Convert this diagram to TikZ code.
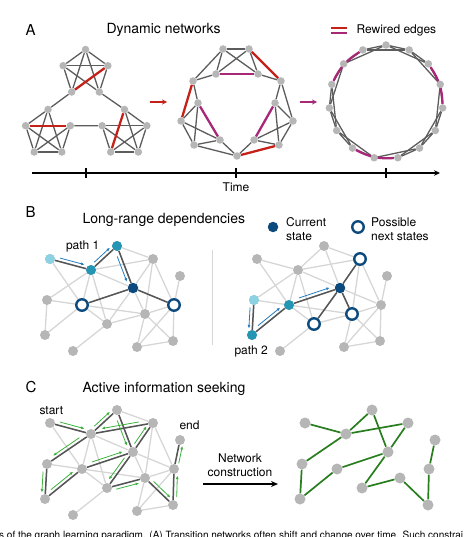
\documentclass[tikz,border=0pt]{standalone}
\usepackage{fontspec}
\setmainfont{TeX Gyre Heros}
\usetikzlibrary{calc,arrows.meta,backgrounds}

\definecolor{nodegray}{RGB}{182,182,182}
\definecolor{edgegray}{RGB}{92,92,92}
\definecolor{edgelight}{RGB}{214,214,214}
\definecolor{edgedark}{RGB}{85,85,85}
\definecolor{rewirered}{RGB}{196,34,24}
\definecolor{rewiremag}{RGB}{168,40,120}
\definecolor{startcyan}{RGB}{140,210,226}
\definecolor{pathteal}{RGB}{36,150,180}
\definecolor{curblue}{RGB}{12,74,126}
\definecolor{arrowblue}{RGB}{36,124,192}
\definecolor{walkgreen}{RGB}{60,178,60}
\definecolor{netgreen}{RGB}{40,125,30}

% one graph, used in B and C
\def\graphpts{1/50/259,2/91/270,3/117/246,4/133/288,5/82/305,6/174/305,7/153/259,8/180/276,
  9/47/300,10/45/335,11/107/324,12/145/314,13/73/351,14/137/347,15/173/341}
\def\graphedges{1/2,2/3,3/4,4/5,4/6,9/10,5/10,4/7,4/12,4/11,1/5,2/7,2/4,2/5,2/11,2/9,3/7,
  6/7,7/12,6/8,5/9,5/11,5/12,11/13,11/12,12/14,12/15,6/12,6/15,6/14,14/15}
\def\walkedges{1/2,2/3,3/4,4/7,7/2,2/9,9/10,10/5,5/4,4/11,11/12,12/15,15/6,6/8}

% arrow drawn beside an edge
\newcommand{\pathstep}[4]{%
  \path ($(#2)!.22!(#3)$) coordinate (s1) ($(#2)!.82!(#3)$) coordinate (s2)
        ($(s1)!3.5pt!#4:(s2)$) coordinate (so);
  \draw[#1] (so) -- ($(s2)+(so)-(s1)$);
}

\begin{document}
\begin{tikzpicture}[x=1pt,y=-1pt,font=\fontsize{12}{14}\selectfont,
  anode/.style={circle,fill=nodegray,inner sep=0pt,minimum size=7.5pt},
  bnode/.style={circle,fill=nodegray,inner sep=0pt,minimum size=10pt},
  cnode/.style={bnode,minimum size=11pt},
  startnode/.style={bnode,fill=startcyan},
  pathnode/.style={bnode,fill=pathteal},
  curnode/.style={bnode,fill=curblue,minimum size=10.5pt},
  opennode/.style={circle,draw=curblue,fill=white,line width=2.4pt,inner sep=0pt,minimum size=11.5pt},
  aedge/.style={draw=edgegray,line width=1.3pt},
  rededge/.style={draw=rewirered,line width=2.3pt},
  magedge/.style={draw=rewiremag,line width=2.3pt},
  faintedge/.style={draw=edgelight,line width=1.3pt},
  darkedge/.style={draw=edgedark,line width=1.5pt},
  greenedge/.style={draw=netgreen,line width=1.7pt},
  bluearrow/.style={draw=arrowblue,line width=.8pt,-{Latex[length=3.5pt,width=3pt]}},
  walkarrow/.style={draw=walkgreen,line width=.8pt,-{Latex[length=3.5pt,width=3pt]}},
  headtext/.style={anchor=base west,font=\fontsize{14}{16}\selectfont},
  panellabel/.style={anchor=base west,font=\fontsize{15}{16}\selectfont},
  axis/.style={line width=1.4pt}]
  \useasboundingbox (0,0) rectangle (466,537);

  % ---------- A ----------
  \node[panellabel] (labA) at (22,36) {A};
  \node[headtext] (headA) at (103,34) {Dynamic networks};
  \coordinate (lr0) at (331,28); \coordinate (lr1) at (347,28);
  \coordinate (lm0) at (331,33); \coordinate (lm1) at (347,33);
  \draw[rededge] (lr0) -- (lr1);
  \draw[magedge] (lm0) -- (lm1);
  \node[anchor=base west] (legA) at (353,34) {Rewired edges};

  % modular network
  \foreach \m/\cx/\cy in {t/85.5/73,l/48/133,r/124.5/133}
    \foreach \k in {0,...,4}
      \node[anode] (\m\k) at ([shift={(\cx,\cy)}]{-90+72*\k}:23.5) {};
  % half-way network
  \foreach \n/\x/\y in {1/223/49,2/249/49,3/216/74,4/258/74,5/193/81,6/281/81,7/198/103,
      8/275/103,9/181/121,10/293/121,11/220/140,12/254/140,13/194/145,14/279/145,15/237/156}
    \node[anode] (m\n) at (\x,\y) {};
  % ring lattice
  \foreach \k in {0,...,14}
    \node[anode] (c\k) at ([shift={(386,102)}]{-90+24*\k}:57) {};

  \begin{scope}[on background layer]
    \foreach \m/\mi/\mj/\ri/\rj in {t/2/3/1/3,l/0/1/1/4,r/0/4/0/3}{
      \foreach \i in {0,...,3}{
        \pgfmathtruncatemacro{\inext}{\i+1}
        \foreach \j in {\inext,...,4}{
          \pgfmathtruncatemacro{\skipit}{((\i==\mi)&&(\j==\mj))||((\i==\ri)&&(\j==\rj))}
          \ifnum\skipit=0 \draw[aedge] (\m\i) -- (\m\j); \fi
        }
      }
      \draw[rededge] (\m\ri) -- (\m\rj);
    }
    \draw[aedge] (t3) -- (l0) (t2) -- (r0) (l1) -- (r4);

    \foreach \a/\b in {1/2,1/3,1/4,2/3,2/4,1/5,3/5,4/6,5/7,6/8,6/10,8/10,7/9,7/13,9/11,
        9/13,11/13,11/15,13/15,8/14,10/12,10/14,12/14,12/15}
      \draw[aedge] (m\a) -- (m\b);
    \foreach \a/\b in {2/6,5/9,14/15} \draw[rededge] (m\a) -- (m\b);
    \foreach \a/\b in {3/4,7/11,8/12} \draw[magedge] (m\a) -- (m\b);

    \foreach \k in {0,...,14}{
      \pgfmathtruncatemacro{\ka}{mod(\k+1,15)}
      \pgfmathtruncatemacro{\kb}{mod(\k+2,15)}
      \pgfmathtruncatemacro{\kr}{mod(\k,5)}
      \draw[aedge] (c\k) -- (c\ka);
      \ifnum\kr=2 \else \draw[aedge] (c\k) -- (c\kb); \fi
    }
    \foreach \a/\b in {2/4,7/9,12/14} \draw[magedge] (c\a) to[bend left=16] (c\b);
  \end{scope}

  \coordinate (ar0) at (150,102); \coordinate (ar1) at (167,102);
  \coordinate (am0) at (300,102); \coordinate (am1) at (317,102);
  \draw[rewirered,line width=1.4pt,-{Stealth[length=5pt,width=5pt]}] (ar0) -- (ar1);
  \draw[rewiremag,line width=1.4pt,-{Stealth[length=5pt,width=5pt]}] (am0) -- (am1);

  % time axis
  \coordinate (tstart) at (32,173); \coordinate (tend) at (440,173);
  \draw[axis,-{Stealth[length=6pt,width=5.5pt]}] (tstart) -- (tend);
  \foreach \x in {86,236,386} \draw[axis] (\x,168) -- (\x,178);
  \node[anchor=base] (time) at (236,191.5) {Time};

  % ---------- B ----------
  \node[panellabel] (labB) at (22,217.5) {B};
  \node[headtext] (headB) at (79,223) {Long-range dependencies};
  \node[curnode] (legcur) at (273,227) {};
  \node[anchor=west,align=left,inner sep=0pt] (legcurtext) at (286,229) {Current\\state};
  \node[opennode] (legopen) at (358,227) {};
  \node[anchor=west,align=left,inner sep=0pt] (legopentext) at (371,229) {Possible\\next states};

  \foreach \p/\dx/\dy in {bl/0/0,br/207/0,cl/0/164}
    \foreach \n/\x/\y in \graphpts
      \node[bnode] (\p\n) at (\x+\dx,\y+\dy) {};
  \foreach \n/\x/\y in \graphpts{
    \ifnum\n=13 \else\ifnum\n=14 \else
      \node[cnode] (cr\n) at (\x+255,\y+164) {};
    \fi\fi
  }
  % coloured states
  \node[startnode] (bl1) at (bl1) {};
  \node[pathnode] (bl2) at (bl2) {};
  \node[pathnode] (bl3) at (bl3) {};
  \node[curnode] (bl4) at (bl4) {};
  \foreach \n in {5,6} \node[opennode] (bl\n) at (bl\n) {};
  \node[startnode] (br9) at (br9) {};
  \node[pathnode] (br10) at (br10) {};
  \node[pathnode] (br5) at (br5) {};
  \node[curnode] (br4) at (br4) {};
  \foreach \n in {7,11,12} \node[opennode] (br\n) at (br\n) {};

  \begin{scope}[on background layer]
    \foreach \p in {bl,br,cl}
      \foreach \a/\b in \graphedges \draw[faintedge] (\p\a) -- (\p\b);
    \foreach \a/\b in {1/2,2/3,3/4,4/5,4/6} \draw[darkedge] (bl\a) -- (bl\b);
    \foreach \a/\b in {9/10,10/5,5/4,4/7,4/12,4/11} \draw[darkedge] (br\a) -- (br\b);
    \foreach \a/\b in \walkedges \draw[darkedge] (cl\a) -- (cl\b);
    \foreach \a/\b in \walkedges \draw[greenedge] (cr\a) -- (cr\b);
  \end{scope}

  \foreach \a/\b/\s in {1/2/90,2/3/90,3/4/-90} {\pathstep{bluearrow}{bl\a}{bl\b}{\s}}
  \foreach \a/\b/\s in {9/10/-90,10/5/90,5/4/90} {\pathstep{bluearrow}{br\a}{br\b}{\s}}
  \node[anchor=base west] (path1) at (62.5,249.5) {path 1};
  \node[anchor=base west] (path2) at (231,354) {path 2};

  \coordinate (sep0) at (212,250); \coordinate (sep1) at (212,345);
  \draw[edgelight,line width=.9pt] (sep0) -- (sep1);

  % ---------- C ----------
  \node[panellabel] (labC) at (22,392.5) {C};
  \node[headtext] (headC) at (79,392) {Active information seeking};
  \node[anchor=base west] (start) at (36,414) {start};
  \node[anchor=base west] (end) at (176,429) {end};
  \foreach \a/\b/\s in {1/2/90,2/3/90,3/4/-90,4/7/90,7/2/-90,2/9/-90,9/10/-90,10/5/90,
      5/4/90,4/11/-90,11/12/-90,12/15/90,15/6/-90,6/8/-90}
    {\pathstep{walkarrow}{cl\a}{cl\b}{\s}}

  \coordinate (nc0) at (203,484); \coordinate (nc1) at (278,484);
  \draw[line width=1.5pt,-{Stealth[length=7pt,width=6pt]}] (nc0) -- (nc1);
  \node[align=center,inner sep=0pt] (nctext) at (240,465) {Network\\construction};

  % cut caption
  \node[anchor=base west,inner sep=0pt,font=\fontsize{10}{11}\selectfont] (caption) at (-1,538.5)
    {s of the graph learning paradigm. (A) Transition networks often shift and change over time. Such constrai};
\end{tikzpicture}
\end{document}
